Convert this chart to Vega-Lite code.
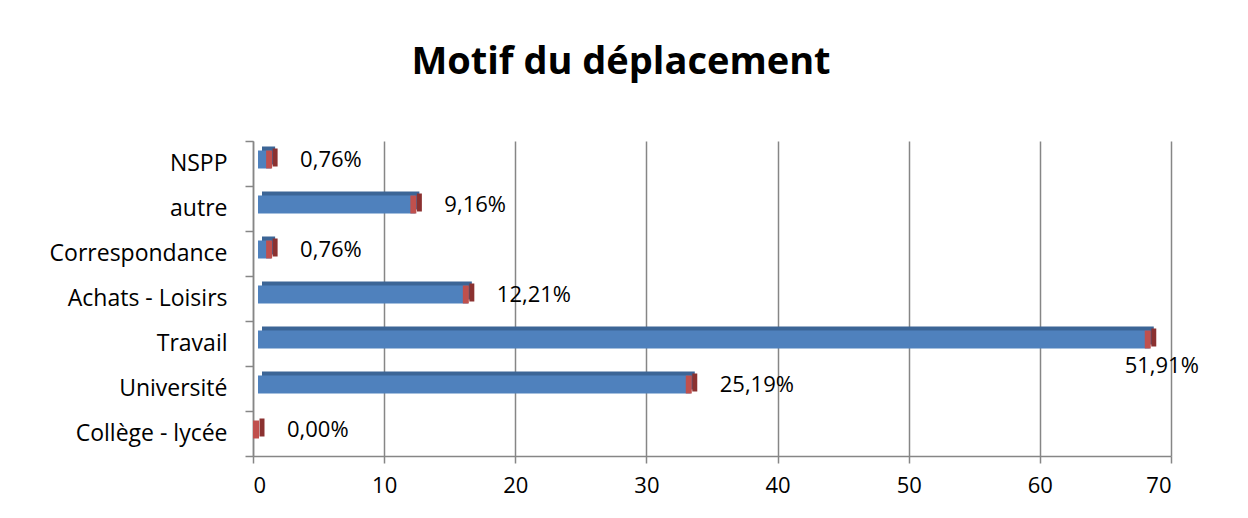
{
  "$schema": "https://vega.github.io/schema/vega-lite/v6.json",
  "width": 918,
  "height": 315,
  "autosize": "none",
  "padding": {"left": 253, "top": 141, "right": 77, "bottom": 62},
  "background": "white",
  "title": {
    "text": "Motif du déplacement",
    "font": "Open Sans",
    "fontSize": 38,
    "fontWeight": "bold",
    "color": "black",
    "anchor": "middle",
    "dx": -91,
    "offset": 48
  },
  "config": {
    "view": {"stroke": null},
    "font": "Open Sans"
  },
  "data": {
    "values": [
      {"motif": "NSPP", "count": 1, "label": "0,76%"},
      {"motif": "autre", "count": 12, "label": "9,16%"},
      {"motif": "Correspondance", "count": 1, "label": "0,76%"},
      {"motif": "Achats - Loisirs", "count": 16, "label": "12,21%"},
      {"motif": "Travail", "count": 68, "label": "51,91%"},
      {"motif": "Université", "count": 33, "label": "25,19%"},
      {"motif": "Collège - lycée", "count": 0, "label": "0,00%"}
    ]
  },
  "encoding": {
    "y": {
      "field": "motif",
      "type": "nominal",
      "sort": null,
      "scale": {"paddingInner": 0, "paddingOuter": 0},
      "axis": {
        "title": null,
        "tickBand": "extent",
        "domainColor": "#868686",
        "domainWidth": 1.5,
        "tickColor": "#868686",
        "tickWidth": 1.5,
        "tickSize": 8,
        "labelFont": "Open Sans",
        "labelFontSize": 23,
        "labelColor": "black",
        "labelPadding": 18
      }
    },
    "x": {
      "field": "count",
      "type": "quantitative",
      "scale": {"domain": [0, 70], "nice": false},
      "axis": {
        "title": null,
        "values": [0, 10, 20, 30, 40, 50, 60, 70],
        "grid": true,
        "gridColor": "#868686",
        "gridWidth": 1.5,
        "domainColor": "#868686",
        "domainWidth": 1.5,
        "tickColor": "#868686",
        "tickWidth": 1.5,
        "tickSize": 7,
        "labelFont": "Open Sans",
        "labelFontSize": 22,
        "labelColor": "black",
        "labelPadding": 12
      }
    }
  },
  "layer": [
    {
      "mark": {"type": "bar", "color": "#3C6596", "height": {"band": 0.4}, "xOffset": 9, "yOffset": -8},
      "encoding": {}
    },
    {
      "mark": {"type": "tick", "orient": "vertical", "color": "#8B3130", "opacity": 1, "thickness": 5, "xOffset": 9, "yOffset": -6, "size": 18},
      "encoding": {}
    },
    {
      "mark": {"type": "bar", "color": "#4F81BD", "height": {"band": 0.4}, "xOffset": 5, "yOffset": -4},
      "encoding": {}
    },
    {
      "mark": {"type": "tick", "orient": "vertical", "color": "#C0504D", "opacity": 1, "thickness": 6, "xOffset": 3, "yOffset": -4, "size": 18},
      "encoding": {}
    },
    {
      "transform": [{"filter": "datum.motif !== 'Travail'"}],
      "mark": {"type": "text", "align": "left", "baseline": "middle", "font": "Open Sans", "fontSize": 22, "color": "black", "dx": 34, "dy": -4},
      "encoding": {"text": {"field": "label"}}
    },
    {
      "transform": [{"filter": "datum.motif === 'Travail'"}],
      "mark": {"type": "text", "align": "center", "baseline": "middle", "font": "Open Sans", "fontSize": 22, "color": "black", "dx": 17, "dy": 22},
      "encoding": {"text": {"field": "label"}}
    }
  ]
}
